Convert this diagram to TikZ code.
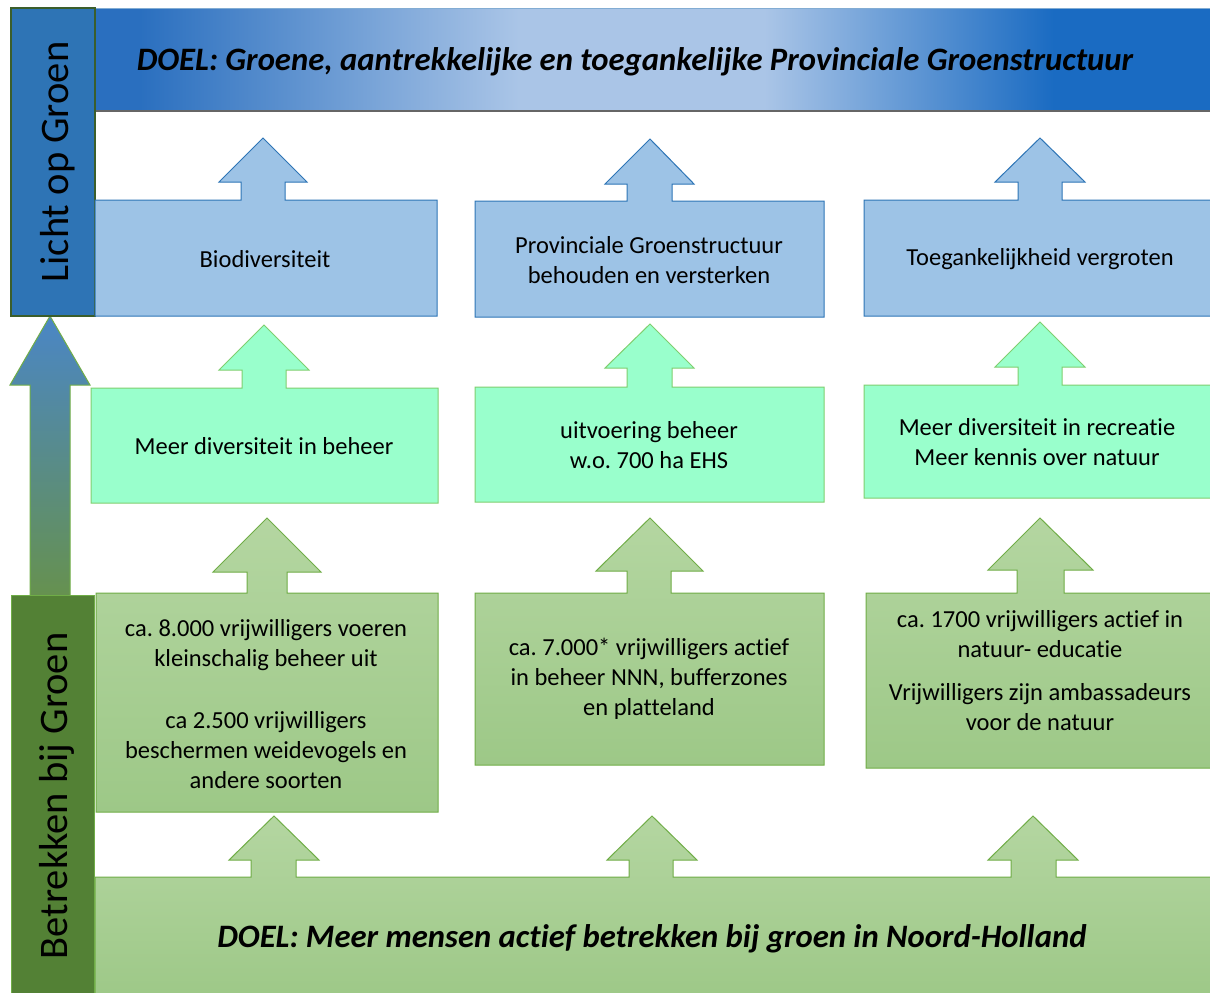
\documentclass[tikz,border=0pt]{standalone}
\usepackage{fontspec}
\setmainfont{Carlito}[Ligatures={NoCommon}]
\frenchspacing
\definecolor{bdark}{HTML}{2A6FBF}
\definecolor{blight}{HTML}{AAC5E7}
\definecolor{bdarkR}{HTML}{1A6BC2}
\definecolor{bluefill}{HTML}{9DC3E6}
\definecolor{blueline}{HTML}{2E75B6}
\definecolor{mintfill}{HTML}{99FFCC}
\definecolor{mintline}{HTML}{7FCF6F}
\definecolor{gtop}{HTML}{B4D6A1}
\definecolor{gbot}{HTML}{9DC887}
\definecolor{gline}{HTML}{70AD47}
\definecolor{lichtfill}{HTML}{2E74B5}
\definecolor{lichtline}{HTML}{3B5E2B}
\definecolor{betrfill}{HTML}{538135}
\definecolor{arrtop}{HTML}{4A86C6}
\definecolor{arrbot}{HTML}{66914F}
\pgfdeclarehorizontalshading{banner}{100bp}{color(0bp)=(bdark); color(27bp)=(bdark); color(44bp)=(blight); color(55bp)=(blight); color(68bp)=(bdarkR); color(100bp)=(bdarkR)}
\tikzset{
  bluebox/.style={fill=bluefill, draw=blueline, line width=1pt},
  mintbox/.style={fill=mintfill, draw=mintline, line width=1pt},
  greenbox/.style={top color=gtop, bottom color=gbot, draw=gline, line width=1pt},
  txt/.style={align=center, font=\fontsize{24.5}{30}\selectfont, text=black},
  goal/.style={align=center, font=\fontsize{32.7}{36}\selectfont\bfseries\itshape, text=black},
  side/.style={rotate=90, font=\fontsize{40.5}{44}\selectfont, text=black},
}
\begin{document}
\begin{tikzpicture}[x=1pt,y=-1pt]
\useasboundingbox (0,0) rectangle (1210,993);
\fill[white] (0,0) rectangle (1210,993);
% top banner
\shade[shading=banner] (95,8) rectangle (1210,110);
\draw[blueline!60!white, line width=1pt] (95,8.5) -- (1210,8.5);
\draw[gray!80!black, line width=2pt] (95,111) -- (1210,111);
\node[goal] (doeltop) at (635,62) {DOEL: Groene, aantrekkelijke en toegankelijke Provinciale Groenstructuur};
% left big arrow
\shade[top color=arrtop, bottom color=arrbot, draw=gline, line width=1pt]
  (30,596) -- (30,385) -- (10,385) -- (50,316) -- (90,385) -- (70,385) -- (70,596) -- cycle;
% left boxes
\draw[fill=lichtfill, draw=lichtline, line width=1.5pt] (11,8) rectangle (95,316);
\node[side] (licht) at (58,162) {Licht op Groen};
\draw[fill=betrfill, draw=gline, line width=1pt] (11,595) rectangle (94,1000);
\node[side] (betr) at (57,796) {Betrekken bij Groen};
% row 1 (blue)
\draw[bluebox] (95,200) -- (241,200) -- (241,182) -- (219,182) -- (263,138) -- (307,182) -- (285,182) -- (285,200) -- (437,200) -- (437,316) -- (95,316) -- cycle;
\draw[bluebox] (475,201) -- (627,201) -- (627,184) -- (605,184) -- (650,139) -- (694,184) -- (672,184) -- (672,201) -- (824,201) -- (824,317) -- (475,317) -- cycle;
\draw[bluebox] (864,200) -- (1018,200) -- (1018,182) -- (995,182) -- (1040,138) -- (1085,182) -- (1062,182) -- (1062,200) -- (1215,200) -- (1215,316) -- (864,316) -- cycle;
\node[txt] (b1) at (265,259) {Biodiversiteit};
\node[txt] (b2) at (649,260) {Provinciale Groenstructuur\\behouden en versterken};
\node[txt] (b3) at (1040,259) {Toegankelijkheid vergroten};
% row 2 (mint)
\draw[mintbox] (91,388) -- (242,388) -- (242,370) -- (219,370) -- (264,325) -- (309,370) -- (286,370) -- (286,388) -- (438,388) -- (438,503) -- (91,503) -- cycle;
\draw[mintbox] (475,387) -- (627,387) -- (627,368) -- (605,368) -- (650,324) -- (694,368) -- (672,368) -- (672,387) -- (824,387) -- (824,502) -- (475,502) -- cycle;
\draw[mintbox] (864,385) -- (1018,385) -- (1018,367) -- (995,367) -- (1040,322) -- (1085,367) -- (1062,367) -- (1062,385) -- (1215,385) -- (1215,498) -- (864,498) -- cycle;
\node[txt] (m1) at (264,446) {Meer diversiteit in beheer};
\node[txt] (m2) at (649,445) {uitvoering beheer\\w.o. 700 ha EHS};
\node[txt] (m3) at (1037,442) {Meer diversiteit in recreatie\\Meer kennis over natuur};
% row 3 (green)
\draw[greenbox] (96,593) -- (247,593) -- (247,572) -- (213,572) -- (267,518) -- (321,572) -- (287,572) -- (287,593) -- (438,593) -- (438,812) -- (96,812) -- cycle;
\draw[greenbox] (475,593) -- (627,593) -- (627,571) -- (596,571) -- (650,518) -- (703,571) -- (671,571) -- (671,593) -- (824,593) -- (824,765) -- (475,765) -- cycle;
\draw[greenbox] (866,593) -- (1017,593) -- (1017,570) -- (988,570) -- (1040,518) -- (1093,570) -- (1064,570) -- (1064,593) -- (1215,593) -- (1215,768) -- (866,768) -- cycle;
\node[txt] (g1) at (266,704) {ca. 8.000 vrijwilligers voeren\\kleinschalig beheer uit\\[32pt]ca 2.500 vrijwilligers\\beschermen weidevogels en\\andere soorten};
\node[txt] (g2) at (649,679) {ca. 7.000* vrijwilligers actief\\in beheer NNN, bufferzones\\en platteland};
\node[txt] (g3) at (1040,671) {ca. 1700 vrijwilligers actief in\\natuur- educatie\\[13pt]Vrijwilligers zijn ambassadeurs\\voor de natuur};
% bottom goal box with arrows
\draw[greenbox] (95,877) -- (251,877) -- (251,860) -- (229,860) -- (274,816) -- (319,860) -- (296,860) -- (296,877)
  -- (629,877) -- (629,860) -- (607,860) -- (652,816) -- (697,860) -- (673,860) -- (673,877)
  -- (1011,877) -- (1011,860) -- (988,860) -- (1033,816) -- (1078,860) -- (1056,860) -- (1056,877)
  -- (1215,877) -- (1215,1000) -- (95,1000) -- cycle;
\node[goal] (doelbot) at (652,939) {DOEL: Meer mensen actief betrekken bij groen in Noord-Holland};
\end{tikzpicture}
\end{document}
